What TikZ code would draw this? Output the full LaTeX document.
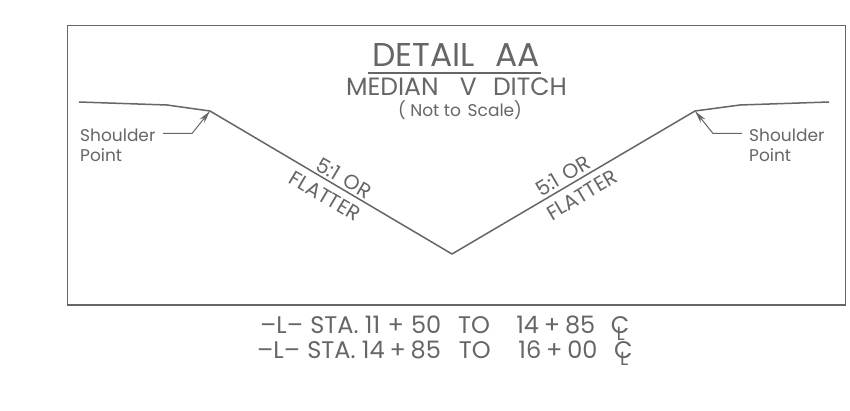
\documentclass[tikz,border=0pt]{standalone}
\usepackage{fontspec}
\setmainfont{Poppins}
\usetikzlibrary{arrows.meta}
\definecolor{ink}{HTML}{666666}
\newcommand{\clmark}{\rlap{C}\hspace{0.24em}\raisebox{-0.3em}{\fontsize{19}{19}\selectfont L}}
\tikzset{
  lbl/.style={text=ink,inner sep=0pt,anchor=base,font=\fontsize{#1}{#1}\selectfont},
  slope/.style={text=ink,inner sep=0pt,anchor=center,font=\fontsize{20.5}{20.5}\selectfont},
  lblw/.style={text=ink,inner sep=0pt,anchor=base west,font=\fontsize{17}{20}\selectfont},
  station/.style={text=ink,inner sep=0pt,anchor=base west,font=\fontsize{24}{24}\selectfont},
  wire/.style={draw=ink,line width=1.5pt},
  thin wire/.style={draw=ink,line width=1pt},
  pointer/.style={thin wire,-{Stealth[length=13pt,width=6pt]}}
}
\begin{document}
\begin{tikzpicture}[x=1pt,y=-1pt]
\useasboundingbox (0,0) rectangle (850,411);
\fill[white] (0,0) rectangle (850,411);
\node[draw=ink,line width=1.5pt,minimum width=778pt,minimum height=279pt,inner sep=0pt,anchor=north west] (frame) at (66.5,25) {};
% ground profile
\coordinate (l0) at (79,102);
\coordinate (l1) at (167,105);
\coordinate (sl) at (210,111);
\coordinate (v) at (452,254);
\coordinate (sr) at (695,111);
\coordinate (r1) at (740,105);
\coordinate (r0) at (829,102);
\draw[wire,line join=round] (l0)--(l1)--(sl)--(v)--(sr)--(r1)--(r0);
% title
\node[lbl=33] (t1) at (456,67) {DETAIL\hspace{0.6em}AA};
\coordinate (ua) at (368,73);
\coordinate (ub) at (541,73);
\draw[wire] (ua)--(ub);
\node[lbl=25] (t2) at (456.5,96) {MEDIAN\hspace{0.85em}V\hspace{0.65em}DITCH};
\node[lbl=17] (t3) at (460,117) {( Not to\hspace{0.4em}Scale)};
% shoulder labels
\node[lblw,align=left] (sh1) at (80,162) {Shoulder\\Point};
\node[lblw,align=left] (sh2) at (749,162) {Shoulder\\Point};
\coordinate (a1) at (163,133.5);
\coordinate (a2) at (192,133.5);
\coordinate (b1) at (742,133.5);
\coordinate (b2) at (713,133.5);
\draw[pointer] (a1)--(a2)--(sl);
\draw[pointer] (b1)--(b2)--(sr);
% slope labels
\node[slope,rotate=-30.6] (s1) at (344,178) {5:1\hspace{0.35em}OR};
\node[slope,rotate=-30.6] (s2) at (325,196) {FLATTER};
\node[slope,rotate=30.6] (s3) at (563,176) {5:1\hspace{0.35em}OR};
\node[slope,rotate=30.6] (s4) at (582,195) {FLATTER};
% station lines
\node[station] (st1) at (260,333) {--L--\hspace{0.3em}STA. 11\hspace{0.3em}+\hspace{0.3em}50\hspace{0.7em}TO\hspace{1.1em}14\hspace{0.2em}+\hspace{0.2em}85\hspace{0.65em}\clmark};
\node[station] (st2) at (257,358) {--L--\hspace{0.3em}STA. 14\hspace{0.2em}+\hspace{0.2em}85\hspace{0.75em}TO\hspace{1.15em}16\hspace{0.2em}+\hspace{0.2em}00\hspace{0.7em}\clmark};
\end{tikzpicture}
\end{document}
